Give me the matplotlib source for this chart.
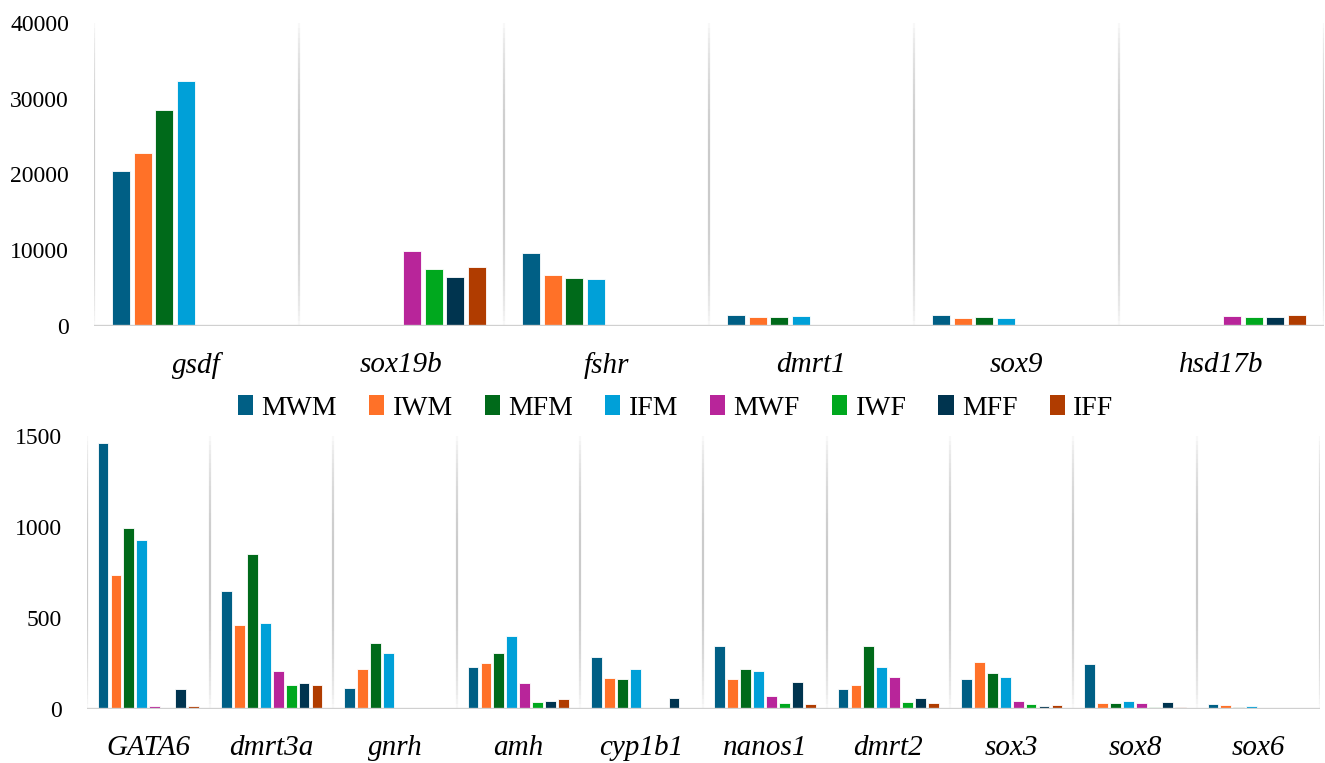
"""Gene expression bar charts (two panels, shared legend)"""

import numpy as np
import matplotlib
matplotlib.use('Agg')
import matplotlib.pyplot as plt
from matplotlib.collections import LineCollection
from matplotlib.patches import Patch

plt.rcParams['font.family'] = ['Liberation Serif', 'DejaVu Serif']

series = ['MWM', 'IWM', 'MFM', 'IFM', 'MWF', 'IWF', 'MFF', 'IFF']
colors = ['#005F85', '#FF7128', '#006A1A', '#00A0D8',
          '#B8259A', '#00A81E', '#00344F', '#B03C00']

# upper panel: highly expressed genes
top_genes = ['gsdf', 'sox19b', 'fshr', 'dmrt1', 'sox9', 'hsd17b']
top_mwm = [20500, 0, 9600, 1500, 1500, 0]
top_iwm = [22800, 0, 6800, 1150, 1050, 0]
top_mfm = [28500, 0, 6300, 1200, 1250, 0]
top_ifm = [32400, 0, 6200, 1350, 1050, 0]
top_mwf = [0, 9950, 0, 0, 0, 1300]
top_iwf = [0, 7500, 0, 0, 0, 1150]
top_mff = [0, 6450, 0, 0, 0, 1150]
top_iff = [0, 7750, 0, 0, 0, 1400]

# lower panel
bot_genes = ['GATA6', 'dmrt3a', 'gnrh', 'amh', 'cyp1b1',
             'nanos1', 'dmrt2', 'sox3', 'sox8', 'sox6']
bot_mwm = [1460, 646, 111, 229, 282, 346, 110, 165, 245, 27]
bot_iwm = [734, 457, 217, 248, 167, 163, 132, 256, 29, 20]
bot_mfm = [991, 851, 360, 306, 165, 216, 343, 193, 31, 9]
bot_ifm = [927, 470, 303, 398, 218, 209, 226, 171, 42, 15]
bot_mwf = [15, 204, 0, 143, 2, 68, 174, 39, 31, 4]
bot_iwf = [5, 127, 0, 36, 0, 33, 35, 27, 9, 4]
bot_mff = [107, 142, 0, 42, 60, 146, 58, 16, 38, 4]
bot_iff = [14, 129, 3, 51, 0, 27, 33, 22, 10, 0]

top_data = [top_mwm, top_iwm, top_mfm, top_ifm, top_mwf, top_iwf, top_mff, top_iff]
bot_data = [bot_mwm, bot_iwm, bot_mfm, bot_ifm, bot_mwf, bot_iwf, bot_mff, bot_iff]


def fading_line(ax, x, y0, y1, color='#c4c4c4', n=60):
    """Vertical separator that fades out towards both ends"""
    ys = np.linspace(y0, y1, n + 1)
    segs = [[(x, ys[i]), (x, ys[i + 1])] for i in range(n)]
    t = (np.arange(n) + 0.5) / n
    alpha = np.clip(np.sin(np.pi * t) ** 0.6, 0, 1) * 0.9
    rgba = [matplotlib.colors.to_rgba(color, a) for a in alpha]
    ax.add_collection(LineCollection(segs, colors=rgba, linewidths=1.6, zorder=0))


def grouped_bars(ax, genes, data, ymax, yticks):
    """Draw 8 bars per gene with separators and a baseline"""
    x = np.arange(len(genes))
    pitch = 0.105
    for k, values in enumerate(data):
        ax.bar(x + (k - 3.5) * pitch, values, width=0.088, color=colors[k],
               edgecolor='white', linewidth=0.6, zorder=2)

    for i in range(len(genes) + 1):
        fading_line(ax, i - 0.5, 0, ymax)

    ax.axhline(0, color='#d0d0d0', linewidth=2.4, zorder=3)
    ax.set_xlim(-0.5, len(genes) - 0.5)
    ax.set_ylim(0, ymax)
    ax.set_xticks(x)
    ax.set_xticklabels(genes, fontstyle='italic', fontsize=21)
    ax.set_yticks(yticks)
    ax.set_yticklabels([str(v) for v in yticks], fontsize=17)
    ax.tick_params(axis='x', length=0, pad=19)
    ax.tick_params(axis='y', length=0, pad=18)
    for side in ax.spines.values():
        side.set_visible(False)


fig = plt.figure(figsize=(13.25, 7.63), dpi=100)
ax_top = fig.add_axes([0.0709, 0.5727, 0.9283, 0.3972])
ax_bot = fig.add_axes([0.0654, 0.0714, 0.9308, 0.3572])

grouped_bars(ax_top, top_genes, top_data, 40000, [0, 10000, 20000, 30000, 40000])
grouped_bars(ax_bot, bot_genes, bot_data, 1500, [0, 500, 1000, 1500])

handles = [Patch(facecolor=c, edgecolor='none') for c in colors]
fig.legend(handles, series, loc='center', bbox_to_anchor=(0.51, 0.465),
           ncol=8, frameon=False, fontsize=20, handlelength=0.55,
           handleheight=0.7, handletextpad=0.3, columnspacing=1.15)

fig.savefig('out.png', dpi=100)
plt.close(fig)
